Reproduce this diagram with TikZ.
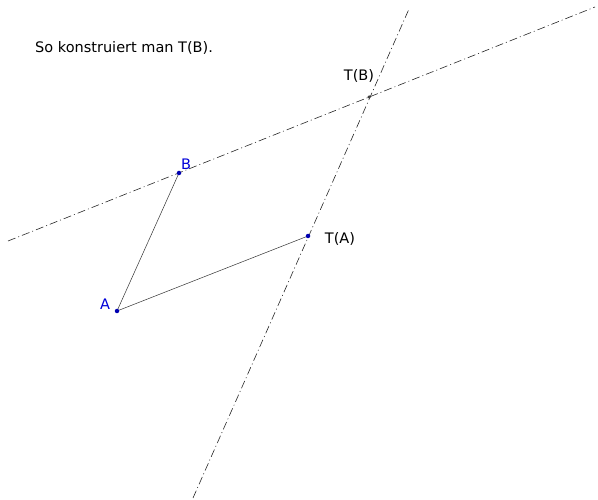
\documentclass[tikz,border=0pt]{standalone}
\usepackage{fontspec}
\setmainfont{DejaVu Sans}
\begin{document}
\begin{tikzpicture}[x=1pt,y=-1pt,
  dd/.style={line width=0.6pt, dash pattern=on 8pt off 3pt on 1pt off 3pt, black!85},
  seg/.style={line width=0.5pt, black!80},
  bpt/.style={circle, fill=blue!70!black, inner sep=0pt, minimum size=4.5pt},
  kpt/.style={circle, fill=black!75, inner sep=0pt, minimum size=3.5pt},
  lbl/.style={font=\fontsize{14.5}{17}\selectfont, inner sep=0pt},
  blbl/.style={lbl, text=blue!85!black}]
\useasboundingbox (0,0) rectangle (598,500);
\coordinate (A) at (117,311);
\coordinate (B) at (179,173);
\coordinate (TA) at (308,236);
\coordinate (TB) at (369,97);
\coordinate (L1) at (8,241);
\coordinate (L2) at (595,7);
\coordinate (M1) at (193,498);
\coordinate (M2) at (409,9);
\draw[dd] (L1) -- (L2);
\draw[dd] (M1) -- (M2);
\draw[seg] (A) -- (B);
\draw[seg] (A) -- (TA);
\node[bpt] (pA) at (A) {};
\node[bpt] (pB) at (B) {};
\node[bpt] (pTA) at (TA) {};
\node[kpt] (pTB) at (TB) {};
\node[blbl] (lA) at (105,304) {A};
\node[blbl] (lB) at (186,164) {B};
\node[lbl] (lTA) at (340,239) {T(A)};
\node[lbl] (lTB) at (359,76) {T(B)};
\node[lbl, anchor=west] (title) at (35,48) {So konstruiert man T(B).};
\end{tikzpicture}
\end{document}
